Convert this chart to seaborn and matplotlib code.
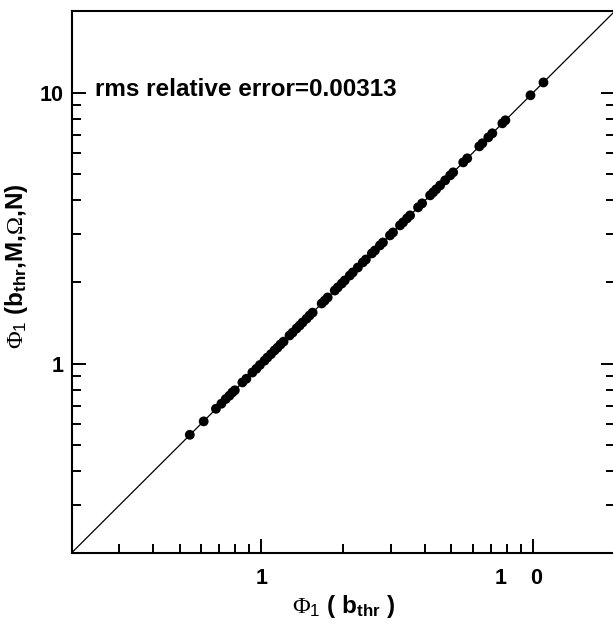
import matplotlib
matplotlib.use("Agg")
import matplotlib.pyplot as plt
import seaborn as sns
import pandas as pd
from matplotlib.ticker import FixedLocator, NullFormatter, FixedFormatter
from matplotlib.transforms import ScaledTranslation

# Data (Phi_1 exact vs. fitted Phi_1)
phi_exact = [0.545, 0.613, 0.680, 0.712, 0.739, 0.762, 0.781, 0.798, 0.851, 0.880,
             0.926, 0.958, 0.987, 1.026, 1.052, 1.084, 1.117, 1.146, 1.175, 1.206,
             1.269, 1.302, 1.347, 1.382, 1.417, 1.466, 1.504, 1.543, 1.666, 1.709,
             1.753, 1.861, 1.909, 1.975, 2.026, 2.114, 2.169, 2.263, 2.361, 2.422,
             2.549, 2.615, 2.729, 2.799, 2.971, 3.048, 3.235, 3.319, 3.434, 3.523,
             3.770, 3.901, 4.175, 4.283, 4.394, 4.546, 4.743, 4.949, 5.077, 5.527,
             5.719, 6.334, 6.498, 6.838, 7.074, 7.702, 7.901, 9.773, 10.91]
phi_fit = [0.546, 0.612, 0.681, 0.711, 0.740, 0.761, 0.782, 0.797, 0.852, 0.879,
           0.927, 0.957, 0.988, 1.025, 1.053, 1.083, 1.118, 1.145, 1.176, 1.205,
           1.270, 1.301, 1.348, 1.381, 1.418, 1.465, 1.505, 1.542, 1.667, 1.708,
           1.754, 1.860, 1.910, 1.974, 2.027, 2.113, 2.170, 2.262, 2.362, 2.421,
           2.550, 2.614, 2.730, 2.798, 2.972, 3.047, 3.236, 3.318, 3.435, 3.522,
           3.771, 3.900, 4.176, 4.282, 4.395, 4.545, 4.744, 4.948, 5.078, 5.526,
           5.720, 6.333, 6.499, 6.837, 7.075, 7.701, 7.902, 9.774, 10.90]

axis_limits = [0.2, 20]
x_major_ticks = [1, 10]
x_major_labels = ["1", "1    0"]
y_major_ticks = [1, 10]
y_major_labels = ["1", "10"]
minor_ticks = [0.3, 0.4, 0.5, 0.6, 0.7, 0.8, 0.9, 2, 3, 4, 5, 6, 7, 8, 9]
annotation = "rms relative error=0.00313"
xlabel = r"$\mathrm{\Phi}_{\mathsf{1}}$ ( $\mathbf{b}_{\mathbf{thr}}$ )"
ylabel = r"$\mathrm{\Phi}_{\mathsf{1}}$ ($\mathbf{b}_{\mathbf{thr}}$,M,$\mathrm{\Omega}$,N)"

sns.set_theme(style="white")
plt.rcParams["font.family"] = ["Liberation Sans", "DejaVu Sans"]
plt.rcParams["mathtext.fontset"] = "custom"
plt.rcParams["mathtext.rm"] = "Liberation Serif:normal"
plt.rcParams["mathtext.it"] = "Liberation Serif:italic"
plt.rcParams["mathtext.bf"] = "Liberation Sans:bold"
plt.rcParams["mathtext.sf"] = "Liberation Sans:normal"

W, H = 613, 624
fig = plt.figure(figsize=(W / 100, H / 100), dpi=100)
ax = fig.add_axes([71.5 / W, 71 / H, 543.5 / W, 542 / H])

df = pd.DataFrame({"exact": phi_exact, "fit": phi_fit})
ax.set_xscale("log")
ax.set_yscale("log")
ax.axline((1, 1), (10, 10), color="black", lw=0.9, zorder=1)
sns.scatterplot(data=df, x="exact", y="fit", ax=ax, color="black", s=50,
                edgecolor="none", linewidth=0, zorder=2, legend=False)
ax.set_xlim(axis_limits)
ax.set_ylim(axis_limits)

for a, ticks, labels in ((ax.xaxis, x_major_ticks, x_major_labels),
                         (ax.yaxis, y_major_ticks, y_major_labels)):
    a.set_major_locator(FixedLocator(ticks))
    a.set_major_formatter(FixedFormatter(labels))
    a.set_minor_locator(FixedLocator(minor_ticks))
    a.set_minor_formatter(NullFormatter())

ax.tick_params(which="both", direction="in", top=False, right=True, left=True,
               bottom=True, labelright=False, labelleft=True, labelbottom=True,
               color="black", width=1.4)
ax.tick_params(which="major", length=9.8)
ax.tick_params(which="minor", length=6.5)
ax.tick_params(axis="x", which="major", pad=11, labelsize=15.5)
ax.tick_params(axis="y", which="major", pad=6, labelsize=15.5)
for lab in ax.get_xticklabels() + ax.get_yticklabels():
    lab.set_fontweight("bold")
    lab.set_color("black")

lab10 = ax.get_xticklabels()[1]
lab10.set_transform(lab10.get_transform() + ScaledTranslation(-0.14, 0, fig.dpi_scale_trans))

for side in ("left", "bottom", "top", "right"):
    ax.spines[side].set_color("black")
    ax.spines[side].set_linewidth(1.5)

ax.set_xlabel(xlabel, fontsize=17.5, fontweight="bold", color="black", labelpad=3)
ax.set_ylabel(ylabel, fontsize=17.5, fontweight="bold", color="black")
ax.yaxis.set_label_coords(-0.077, 0.53)

ax.text((95 - 71.5) / 543.5, (553 - 89) / 542, annotation, transform=ax.transAxes,
        fontsize=17.5, fontweight="bold", color="black", ha="left", va="center")

fig.savefig("out.png", dpi=100)
